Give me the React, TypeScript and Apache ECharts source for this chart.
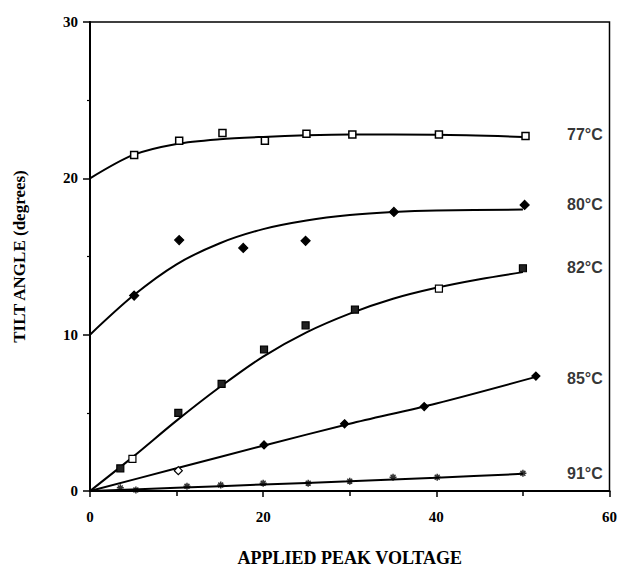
import React, { useEffect, useRef } from "react";
import * as echarts from "echarts";

// Measured points (x = applied peak voltage, y = tilt angle)
const pts77 = [[5.1, 21.5], [10.3, 22.4], [15.3, 22.9], [20.2, 22.4], [25.0, 22.85], [30.3, 22.8], [40.3, 22.8], [50.3, 22.7]];
const pts80 = [[5.1, 12.5], [10.3, 16.05], [17.7, 15.55], [24.9, 16.0], [35.1, 17.85], [50.2, 18.3]];
const pts82 = [[3.5, 1.45], [4.9, 2.05], [10.2, 5.0], [15.2, 6.85], [20.1, 9.05], [24.9, 10.6], [30.6, 11.6], [40.3, 12.95], [50.0, 14.25]];
const pts85 = [[10.2, 1.3], [20.1, 2.95], [29.4, 4.3], [38.6, 5.4], [51.5, 7.35]];
const pts91 = [[3.5, 0.2], [5.3, 0.07], [11.2, 0.3], [15.1, 0.38], [20.0, 0.5], [25.2, 0.5], [30.0, 0.63], [35.0, 0.88], [40.1, 0.88], [50.0, 1.13]];

// Fitted curves
const fit77 = [[0, 20], [5, 21.5], [10, 22.2], [15, 22.5], [20, 22.65], [25, 22.75], [30, 22.8], [40, 22.78], [50, 22.65]];
const fit80 = [[0, 10], [5, 12.5], [10, 14.5], [15, 15.85], [20, 16.75], [25, 17.3], [30, 17.65], [35, 17.85], [40, 17.95], [50, 18.0]];
const fit82 = [[0, 0], [5, 2.2], [10, 4.5], [15, 6.65], [20, 8.6], [25, 10.15], [30, 11.35], [35, 12.3], [40, 13.0], [45, 13.55], [50, 14.0]];
const fit85 = [[0, 0], [10, 1.45], [20, 2.9], [30, 4.3], [40, 5.6], [51.5, 7.3]];
const fit91 = [[0, 0], [10, 0.2], [20, 0.42], [30, 0.62], [40, 0.85], [50, 1.1]];

// Hollow-marker indices
const hollow82 = [1, 7];
const hollow85 = [0];

// Curve labels
const labelNames = ["77°C", "80°C", "82°C", "85°C", "91°C"];
const labelY = [22.8, 18.3, 14.3, 7.2, 1.1];
const labelX = 55.1;

const X_NAME = "APPLIED PEAK VOLTAGE";
const Y_NAME = "TILT ANGLE (degrees)";

const SERIF = "'Liberation Serif', 'DejaVu Serif', serif";
const SANS = "'Liberation Sans', Arial, sans-serif";

const asterisk = "path://M0,5L10,5M5,0L5,10M1.5,1.5L8.5,8.5M8.5,1.5L1.5,8.5";

export default function App() {
  const ref = useRef<HTMLDivElement>(null);
  useEffect(() => {
    if (!ref.current) return;
    const chart = echarts.init(ref.current, null, { renderer: "svg" });

    const lineSeries = (d: number[][]) => ({
      type: "line",
      data: d,
      smooth: 0.3,
      showSymbol: false,
      symbol: "none",
      lineStyle: { color: "#000", width: 2 },
      z: 2,
      silent: true,
    });

    const markSeries = (d: number[][], symbol: string, size: number, fill: string, hollowIdx: number[] = [], bw = 1.2) => ({
      type: "scatter",
      data: d.map((p, i) =>
        hollowIdx.includes(i) ? { value: p, itemStyle: { color: "#fff" } } : { value: p }
      ),
      symbol,
      symbolSize: size,
      itemStyle: { color: fill, borderColor: "#000", borderWidth: bw, opacity: 1 },
      z: 3,
      silent: true,
    });

    chart.setOption({
      animation: false,
      backgroundColor: "#fff",
      grid: {
        left: 90,
        top: 22,
        width: 525,
        height: 475,
        show: true,
        borderColor: "#000",
        borderWidth: 1.5,
        backgroundColor: "transparent",
      },
      xAxis: {
        type: "value",
        min: 0,
        max: 60,
        interval: 20,
        name: X_NAME,
        nameLocation: "middle",
        nameGap: 58,
        nameTextStyle: { fontFamily: SERIF, fontWeight: "bold", fontSize: 18, color: "#000" },
        axisLine: { show: true, onZero: false, lineStyle: { color: "#000", width: 2 } },
        axisTick: { show: true, inside: false, length: 6, lineStyle: { color: "#000", width: 1.5 } },
        minorTick: { show: true, splitNumber: 2, length: 5, lineStyle: { color: "#000", width: 1.5 } },
        splitLine: { show: false },
        axisLabel: { fontFamily: SERIF, fontWeight: "bold", fontSize: 15, color: "#000", margin: 18 },
      },
      yAxis: {
        type: "value",
        min: 0,
        max: 30,
        interval: 10,
        name: Y_NAME,
        nameLocation: "middle",
        nameGap: 62,
        nameRotate: 90,
        nameTextStyle: { fontFamily: SERIF, fontWeight: "bold", fontSize: 17, color: "#000" },
        axisLine: { show: true, onZero: false, lineStyle: { color: "#000", width: 2 } },
        axisTick: { show: true, inside: false, length: 7, lineStyle: { color: "#000", width: 1.5 } },
        minorTick: { show: true, splitNumber: 2, length: 3, lineStyle: { color: "#000", width: 1.2 } },
        splitLine: { show: false },
        axisLabel: { fontFamily: SERIF, fontWeight: "bold", fontSize: 15, color: "#000", margin: 12 },
      },
      series: [
        lineSeries(fit77),
        lineSeries(fit80),
        lineSeries(fit82),
        lineSeries(fit85),
        lineSeries(fit91),
        markSeries(pts77, "rect", 7, "#fff", [], 1.5),
        markSeries(pts80, "diamond", 9, "#000"),
        markSeries(pts82, "rect", 7, "#222", hollow82),
        markSeries(pts85, "diamond", 8, "#000", hollow85),
        {
          type: "scatter",
          data: pts91,
          symbol: asterisk,
          symbolSize: 7,
          itemStyle: { color: "none", borderColor: "#000", borderWidth: 1.5 },
          z: 3,
          silent: true,
        },
        {
          type: "scatter",
          data: labelNames.map((n, i) => ({ value: [labelX, labelY[i]], name: n })),
          symbolSize: 0,
          silent: true,
          label: {
            show: true,
            position: "right",
            distance: 0,
            formatter: (p: any) => p.name,
            fontFamily: SANS,
            fontWeight: "bold",
            fontSize: 16,
            color: "#000",
          },
        },
      ],
    });
    return () => chart.dispose();
  }, []);
  return (
    <div
      ref={ref}
      style={{ position: "fixed", left: 0, top: 0, width: 620, height: 572, background: "#fff" }}
    />
  );
}
